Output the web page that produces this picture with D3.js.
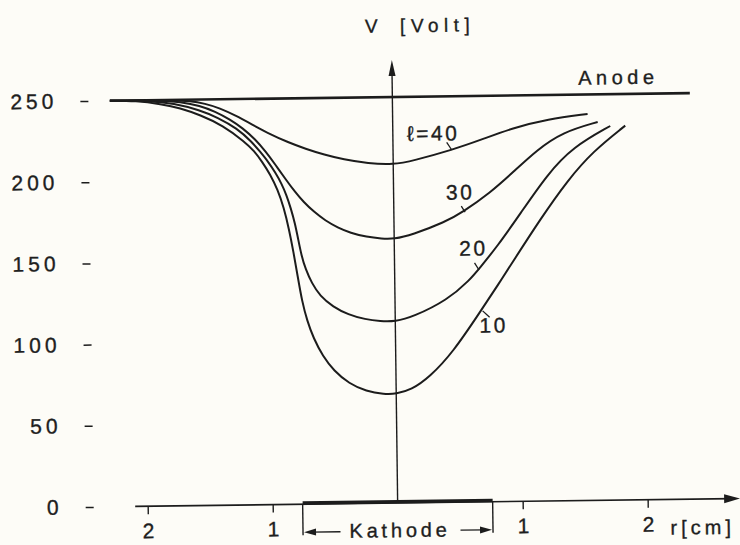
<!DOCTYPE html>
<html><head><meta charset="utf-8">
<script src="https://cdn.jsdelivr.net/npm/d3@7"></script>
<style>
html,body{margin:0;padding:0;background:#fdfcf7;}
svg{display:block;}
text{font-family:"Liberation Sans",Arial,sans-serif;fill:#1e1e1e;stroke:#1e1e1e;stroke-width:0.35;}
</style></head><body>
<svg id="c" width="740" height="545"></svg>
<script>
// ---- data: radius r [cm] (negative = left of axis), potential V [Volt]
const curve10=[[-2.26,250],[-2.05,249.7],[-1.85,247.5],[-1.70,245],[-1.54,240.5],[-1.36,234],[-1.184,223.5],[-1.112,218],[-1.048,211.2],[-0.984,203.2],[-0.928,194],[-0.88,182.9],[-0.84,169.3],[-0.808,155.8],[-0.776,140.4],[-0.744,125],[-0.704,112.7],[-0.656,102.2],[-0.584,91.1],[-0.496,81.9],[-0.376,73.9],[-0.24,69],[-0.096,67.1],[0,67.2],[0.12,69.5],[0.27,77.3],[0.46,92.5],[0.68,117],[0.83,134],[0.95,148],[1.17,173.5],[1.39,197],[1.60,215],[1.86,230.5]];
const curve20=[[-2.26,250],[-1.95,249.7],[-1.75,247.8],[-1.54,243.5],[-1.40,238.8],[-1.248,232.1],[-1.128,223.5],[-1.064,217.4],[-1.0,211.2],[-0.944,204.4],[-0.896,197.7],[-0.856,190.3],[-0.824,182.3],[-0.792,173],[-0.768,163.2],[-0.744,153.3],[-0.712,144.7],[-0.664,136.1],[-0.60,128.1],[-0.496,121.3],[-0.376,116.4],[-0.24,113.3],[-0.12,112.1],[0,111.8],[0.14,114.4],[0.42,124.6],[0.60,136.7],[0.68,144],[0.82,156.8],[1.01,177],[1.23,201],[1.44,217.8],[1.74,230.4]];
const curve30=[[-2.26,250],[-1.85,249.8],[-1.70,248.7],[-1.54,246.3],[-1.42,242.5],[-1.30,237.5],[-1.20,232],[-1.10,225],[-1.02,217.5],[-0.94,209],[-0.86,200],[-0.79,192.5],[-0.72,186],[-0.64,180],[-0.55,174.5],[-0.45,170],[-0.35,166.7],[-0.22,164],[-0.10,162.9],[0,162.6],[0.14,164.9],[0.41,172.6],[0.55,178.6],[0.77,190.1],[0.96,202.9],[1.15,216.2],[1.36,227.1],[1.64,233]];
const curve40=[[-2.26,250],[-1.75,249.8],[-1.62,249.2],[-1.50,247.5],[-1.38,244.5],[-1.26,240],[-1.12,234],[-0.98,228],[-0.84,223],[-0.70,218.8],[-0.55,215],[-0.40,212],[-0.20,209.3],[0,208.3],[0.16,210.6],[0.47,216.9],[0.70,222.8],[0.96,230],[1.24,235.2],[1.56,238]];
const curves=[curve10,curve20,curve30,curve40];
const anode=[[-2.26,250],[2.38,250]];
const yTicks=[0,50,100,150,200,250];
const xTicks=[-2,-1,1,2];
const xTickLabels=["2","1","1","2"];
const cathode=[-0.76,0.76];
const curveLabels=[
  {text:"ℓ=40",r:0.31,v:227.5,lead:[[0.43,221.6],[0.47,216.9]]},
  {text:"30",r:0.52,v:191,lead:[[0.54,182.3],[0.57,178.6]]},
  {text:"20",r:0.62,v:156.4,lead:[[0.64,147.2],[0.675,142.8]]},
  {text:"10",r:0.775,v:108.8,lead:[[0.70,117.6],[0.755,113.6]]}
];

const ink="#1c1c1c";
const svg=d3.select("#c");
const x=d3.scaleLinear().domain([-2.1,2.74]).range([132.5,737.5]);
const y=d3.scaleLinear().domain([0,250]).range([503,97]);
const g=svg.append("g").attr("transform","rotate(-0.75,395,300)");

// y axis ticks (left dashes + labels)
const ya=g.append("g").attr("transform","translate(91,0)")
  .call(d3.axisLeft(y).tickValues(yTicks).tickSize(8).tickPadding(23));
ya.select(".domain").remove();
ya.selectAll("line").attr("stroke",ink).attr("stroke-width",1.5);
ya.selectAll("text").attr("font-size",21).attr("letter-spacing",4).attr("fill",ink)
  .style("font-family","Liberation Sans, Arial, sans-serif");

// x axis ticks
const xa=g.append("g").attr("transform",`translate(0,${y(0)})`)
  .call(d3.axisBottom(x).tickValues(xTicks).tickFormat((d,i)=>xTickLabels[i]).tickSizeInner(8).tickSizeOuter(0).tickPadding(9));
xa.select(".domain").remove();
xa.selectAll("line").attr("stroke",ink).attr("stroke-width",1.4);
xa.selectAll("text").attr("font-size",21).attr("fill",ink)
  .style("font-family","Liberation Sans, Arial, sans-serif");

// x axis line with arrow
const x0=x.domain()[0], x1=x.domain()[1];
g.append("line").attr("x1",x(x0)).attr("x2",x(x1)-8).attr("y1",y(0)).attr("y2",y(0))
  .attr("stroke",ink).attr("stroke-width",1.6);
g.append("path").attr("d",`M${x(x1)},${y(0)} L${x(x1)-16},${y(0)-4.5} L${x(x1)-16},${y(0)+4.5}Z`).attr("fill",ink);

// vertical axis with arrow
const vTop=272.8;
g.append("line").attr("x1",x(0)).attr("x2",x(0)).attr("y1",y(0)).attr("y2",y(vTop)+8)
  .attr("stroke",ink).attr("stroke-width",1.4);
g.append("path").attr("d",`M${x(0)},${y(vTop)} L${x(0)-3.5},${y(vTop)+16} L${x(0)+3.5},${y(vTop)+16}Z`).attr("fill",ink);

// cathode
g.append("rect").attr("x",x(cathode[0])).attr("width",x(cathode[1])-x(cathode[0]))
  .attr("y",y(0)-3).attr("height",3.5).attr("fill",ink);
cathode.forEach(c=>{
  g.append("line").attr("x1",x(c)).attr("x2",x(c)).attr("y1",y(0)).attr("y2",y(0)+31)
    .attr("stroke",ink).attr("stroke-width",1.4);
});
const ay=y(0)+28;
g.append("line").attr("x1",x(-0.46)).attr("x2",x(cathode[0])+8).attr("y1",ay).attr("y2",ay).attr("stroke",ink).attr("stroke-width",1.4);
g.append("path").attr("d",`M${x(cathode[0])+1},${ay} L${x(cathode[0])+13},${ay-3.5} L${x(cathode[0])+13},${ay+3.5}Z`).attr("fill",ink);
g.append("line").attr("x1",x(0.50)).attr("x2",x(cathode[1])-8).attr("y1",ay).attr("y2",ay).attr("stroke",ink).attr("stroke-width",1.4);
g.append("path").attr("d",`M${x(cathode[1])-1},${ay} L${x(cathode[1])-13},${ay-3.5} L${x(cathode[1])-13},${ay+3.5}Z`).attr("fill",ink);
g.append("text").attr("x",x(0)+2).attr("y",y(0)+27).attr("dy","0.36em").attr("text-anchor","middle")
  .attr("font-size",20).attr("letter-spacing",3.8).text("Kathode");

// anode line
const line=d3.line().x(d=>x(d[0])).y(d=>y(d[1]));
g.append("path").datum(anode).attr("d",line).attr("fill","none").attr("stroke",ink).attr("stroke-width",2.6);

// curves
const cl=d3.line().x(d=>x(d[0])).y(d=>y(d[1])).curve(d3.curveBasis);
g.selectAll("path.curve").data(curves).enter().append("path").attr("class","curve")
  .attr("d",cl).attr("fill","none").attr("stroke",ink).attr("stroke-width",2);

// curve labels + leaders
curveLabels.forEach(L=>{
  g.append("text").attr("x",x(L.r)+1.5).attr("y",y(L.v)).attr("dy","0.36em").attr("text-anchor","middle")
    .attr("font-size",21).attr("letter-spacing",2.5).text(L.text);
  g.append("path").datum(L.lead).attr("d",line).attr("stroke",ink).attr("stroke-width",1.3).attr("fill","none");
});

// texts
g.append("text").attr("x",x(1.79)+2.5).attr("y",y(260.5)).attr("dy","0.36em").attr("text-anchor","middle")
  .attr("font-size",20).attr("letter-spacing",4.5).text("Anode");
g.append("text").attr("x",x(-0.211)).attr("y",y(294)).attr("dy","0.36em")
  .attr("font-size",19).text("V");
g.append("text").attr("x",x(0.069)).attr("y",y(294)).attr("dy","0.36em")
  .attr("font-size",19).attr("letter-spacing",5.5).text("[Volt]");
g.append("text").attr("x",x(2.18)).attr("y",y(0)+28).attr("dy","0.36em")
  .attr("font-size",20).attr("letter-spacing",4).text("r[cm]");
</script>
</body></html>
